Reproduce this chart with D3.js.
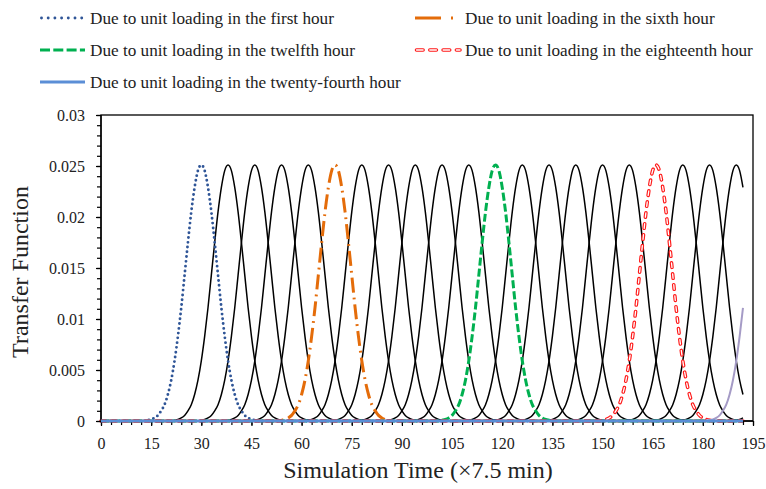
<!DOCTYPE html>
<html>
<head>
<meta charset="utf-8">
<script src="https://cdn.jsdelivr.net/npm/d3@7"></script>
<style>
  html, body { margin: 0; padding: 0; background: #fff; }
  svg { display: block; }
  svg text { font-family: "Liberation Serif", "Times New Roman", serif; fill: #222; }
</style>
</head>
<body>
<svg id="chart" width="766" height="489"></svg>
<script>
// ---------------- DATA ----------------
// Simulation time steps (x 7.5 min) covered by the plotted series
const timeStart = 0;
const timeEnd = 192;
// Transfer-function ordinates, relative to each curve's peak (offset -16 .. +16)
const kernelOffsets = [-16,-15,-14,-13,-12,-11,-10,-9,-8,-7,-6,-5,-4,-3,-2,-1,0,1,2,3,4,5,6,7,8,9,10,11,12,13,14,15,16];
const kernelValues  = [0.00007,0.00015,0.0003,0.00055,0.0010,0.0016,0.0026,0.0040,0.0059,0.0083,0.0111,0.0143,0.0175,0.0205,0.0229,0.02455,0.0251,
                       0.02455,0.0229,0.0205,0.0175,0.0143,0.0111,0.0083,0.0059,0.0040,0.0026,0.0016,0.0010,0.00055,0.0003,0.00015,0.00007];
// Hour of unit loading and time step of the resulting peak
const loadingHours = [1,2,3,4,5,6,7,8,9,10,11,12,13,14,15,16,17,18,19,20,21,22,23,24];
const peakTimes    = [30,38,46,54,62,70,78,86,94,102,110,118,126,134,142,150,158,166,174,182,190,198,206,214];
// Highlighted series (legend)
const legendLabels = [
  "Due to unit loading in the first hour",
  "Due to unit loading in the sixth hour",
  "Due to unit loading in the twelfth hour",
  "Due to unit loading in the eighteenth hour",
  "Due to unit loading in the twenty-fourth hour"
];
const legendHours = [1, 6, 12, 18, 24];
// Axis ticks
const xTicks = [0,15,30,45,60,75,90,105,120,135,150,165,180,195];
const yTicks = [0,0.005,0.01,0.015,0.02,0.025,0.03];
const xTitle = "Simulation Time (\u00d77.5 min)";
const yTitle = "Transfer Function";

// ---------------- BUILD SERIES ----------------
const FONT = '"Liberation Serif", "Times New Roman", serif';
const times = d3.range(timeStart, timeEnd + 1);
const kernelMap = new Map(kernelOffsets.map((o, i) => [o, kernelValues[i]]));
const series = loadingHours.map((h, i) => ({
  hour: h,
  values: times.map(t => ({ t, v: kernelMap.get(t - peakTimes[i]) || 0 }))
}));

// ---------------- LAYOUT ----------------
const svg = d3.select("#chart");
const L = 101, R = 753, T = 115, B = 421;
const x = d3.scaleLinear().domain([0, 195]).range([L, R]);
const y = d3.scaleLinear().domain([0, 0.03]).range([B, T]);

const styles = {
  1:  [{ stroke: "#2F5597", width: 2.9, dash: "0 4.8", cap: "round" }],
  6:  [{ stroke: "#E46C0A", width: 3, dash: "15 5 1.8 5", cap: "butt" }],
  12: [{ stroke: "#00B050", width: 3, dash: "8 3", cap: "butt" }],
  18: [{ stroke: "#FF1A1A", width: 3.6, dash: "4.5 6.5", cap: "round" },
       { stroke: "#FFFFFF", width: 1.3, dash: "4.5 6.5", cap: "round" }],
  22: [{ stroke: "#A59BC6", width: 2, dash: null, cap: "butt" }],
  24: [{ stroke: "#5B8ED6", width: 3, dash: null, cap: "butt" }]
};
const blackStyle = [{ stroke: "#000", width: 1.5, dash: null, cap: "butt" }];
const legendStyles = {
  1:  [{ stroke: "#2F5597", width: 2.9, dash: "0 6.7", cap: "round" }],
  6:  [{ stroke: "#E46C0A", width: 3, dash: "26 10 2 12", cap: "butt" }],
  12: [{ stroke: "#00B050", width: 3, dash: "10 3.3", cap: "butt" }],
  18: [{ stroke: "#FF1A1A", width: 3.6, dash: "6.6 6.7", cap: "round" },
       { stroke: "#FFFFFF", width: 1.3, dash: "6.6 6.7", cap: "round" }],
  24: [{ stroke: "#5B8ED6", width: 3, dash: null, cap: "butt" }]
};

const line = d3.line().x(d => x(d.t)).y(d => y(d.v)).curve(d3.curveMonotoneX);

// ---------------- PLOT BORDER ----------------
svg.append("rect")
  .attr("x", L).attr("y", T).attr("width", R - L).attr("height", B - T)
  .attr("fill", "none").attr("stroke", "#000").attr("stroke-width", 1.3);

// ---------------- SERIES ----------------
const gSeries = svg.append("g");
function drawPath(g, data, st) {
  st.forEach(s => {
    const p = g.append("path").datum(data)
      .attr("d", line)
      .attr("fill", "none")
      .attr("stroke", s.stroke)
      .attr("stroke-width", s.width)
      .attr("stroke-linecap", s.cap)
      .attr("stroke-linejoin", "round");
    if (s.dash) p.attr("stroke-dasharray", s.dash);
  });
}
series.filter(s => !styles[s.hour]).forEach(s => drawPath(gSeries, s.values, blackStyle));
[1, 6, 12, 18, 22].forEach(h => {
  const s = series.find(d => d.hour === h);
  drawPath(gSeries, s.values, styles[h]);
});

// ---------------- AXES ----------------
const xAxis = d3.axisBottom(x).tickValues(xTicks).tickSize(0).tickPadding(0).tickFormat(d3.format("d"));
const gx = svg.append("g").attr("transform", `translate(0,${B})`).call(xAxis);
gx.attr("font-family", FONT).attr("font-size", 16);
gx.select(".domain").remove();
gx.selectAll("text").attr("dy", null).attr("y", 28).attr("fill", "#222");

const xMinor = d3.axisBottom(x).tickValues(d3.range(0, 196, 3)).tickSize(4).tickFormat("");
const gxm = svg.append("g").attr("transform", `translate(0,${B})`).call(xMinor);
gxm.select(".domain").remove();
gxm.selectAll("line").attr("stroke", "#000").attr("stroke-width", 1.2);
const xMajor = d3.axisBottom(x).tickValues(xTicks).tickSize(5).tickFormat("");
const gxM = svg.append("g").attr("transform", `translate(0,${B})`).call(xMajor);
gxM.select(".domain").remove();
gxM.selectAll("line").attr("stroke", "#000").attr("stroke-width", 1.2);

const yAxis = d3.axisLeft(y).tickValues(yTicks).tickSize(0).tickPadding(16)
  .tickFormat(d => d === 0 ? "0" : String(+d.toFixed(3)));
const gy = svg.append("g").attr("transform", `translate(${L},0)`).call(yAxis);
gy.attr("font-family", FONT).attr("font-size", 16);
gy.select(".domain").remove();
gy.selectAll("text").attr("fill", "#222");

const yMinor = d3.axisLeft(y).tickValues(d3.range(0, 31).map(i => i * 0.001)).tickSize(4).tickFormat("");
const gym = svg.append("g").attr("transform", `translate(${L},0)`).call(yMinor);
gym.select(".domain").remove();
gym.selectAll("line").attr("stroke", "#000").attr("stroke-width", 1.2);
const yMajor = d3.axisLeft(y).tickValues(yTicks).tickSize(5).tickFormat("");
const gyM = svg.append("g").attr("transform", `translate(${L},0)`).call(yMajor);
gyM.select(".domain").remove();
gyM.selectAll("line").attr("stroke", "#000").attr("stroke-width", 1.2);

svg.append("line").attr("x1", L).attr("x2", R).attr("y1", B).attr("y2", B).attr("stroke", "#000").attr("stroke-width", 1.3);
svg.append("line").attr("x1", L).attr("x2", L).attr("y1", T).attr("y2", B).attr("stroke", "#000").attr("stroke-width", 1.3);
// zero series (twenty-fourth hour) drawn over the bottom axis, as in the reference
drawPath(svg.append("g"), series.find(d => d.hour === 24).values, styles[24]);

// ---------------- TITLES ----------------
svg.append("text")
  .attr("x", 418).attr("y", 478)
  .attr("text-anchor", "middle")
  .attr("font-family", FONT)
  .attr("font-size", 24)
  .text(xTitle);
svg.append("text")
  .attr("transform", `translate(28,272) rotate(-90)`)
  .attr("text-anchor", "middle")
  .attr("font-family", FONT)
  .attr("font-size", 24)
  .text(yTitle);

// ---------------- LEGEND ----------------
const legendPos = [
  { sx: 40, tx: 90, y: 18 },
  { sx: 415, tx: 465, y: 18 },
  { sx: 40, tx: 90, y: 50 },
  { sx: 415, tx: 465, y: 50 },
  { sx: 40, tx: 90, y: 82 }
];
const gLeg = svg.append("g");
legendHours.forEach((h, i) => {
  const p = legendPos[i];
  legendStyles[h].forEach(s => {
    const ln = gLeg.append("line")
      .attr("x1", p.sx + (s.cap === "round" ? 1.5 : 0)).attr("x2", p.sx + 45)
      .attr("y1", p.y).attr("y2", p.y)
      .attr("stroke", s.stroke).attr("stroke-width", s.width)
      .attr("stroke-linecap", s.cap);
    if (s.dash) ln.attr("stroke-dasharray", s.dash);
  });
  gLeg.append("text")
    .attr("x", p.tx).attr("y", p.y + 6)
    .attr("font-family", FONT)
    .attr("font-size", 17.2)
    .text(legendLabels[i]);
});
</script>
</body>
</html>
